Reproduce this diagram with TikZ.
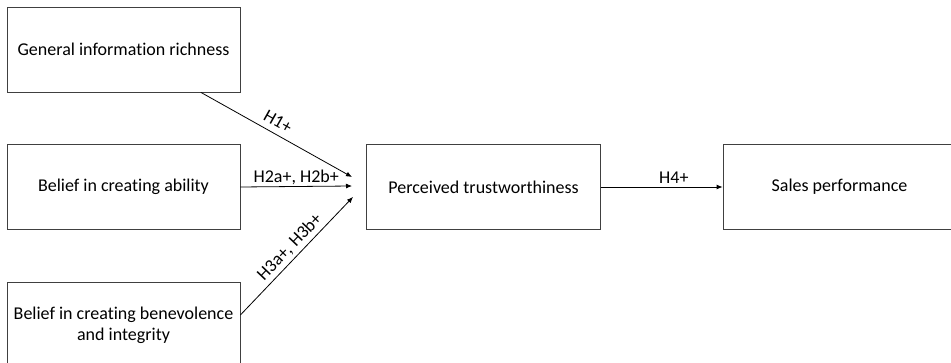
\documentclass[tikz,border=0pt]{standalone}
\usepackage{fontspec}
\setmainfont[Ligatures=NoCommon]{Carlito}
\usepackage{xcolor}
\usepackage{tikz}
\usetikzlibrary{arrows.meta}

\begin{document}
\begin{tikzpicture}[x=1pt, y=-1pt, font=\fontsize{18}{21}\selectfont, >={Latex[length=6pt, width=5pt]}]
    \clip (0,0) rectangle (951,363);
    \fill[white] (0,0) rectangle (951,363);

    % Antecedents
    \node[draw=black!75, rectangle, line width=0.8pt, minimum width=233pt, minimum height=85pt] (gen) at (123.5,49.5) {General information richness};
    \node[draw=black!75, rectangle, line width=0.8pt, minimum width=233pt, minimum height=85pt] (abil) at (123.5,187) {Belief in creating ability};
    \node[draw=black!75, rectangle, line width=0.8pt, minimum width=233pt, minimum height=85pt, align=center] (benev) at (123.5,325) {Belief in creating benevolence\\and integrity};

    % Mediator
    \node[draw=black!75, rectangle, line width=0.8pt, minimum width=233.5pt, minimum height=85pt] (trust) at (483.5,187) {Perceived trustworthiness};

    % Outcome
    \node[draw=black!75, rectangle, line width=0.8pt, minimum width=233pt, minimum height=85pt] (sales) at (839.5,187) {Sales performance};

    % Arrow ends in front of the mediator
    \coordinate (in1) at (352,177);
    \coordinate (in2) at (352,186);
    \coordinate (in3) at (353,197);

    % Arrows
    \draw[->, line width=0.8pt] (gen.-29) -- node[pos=0.47, above=3pt, sloped] {H1+} (in1);
    \draw[->, line width=0.8pt] (abil.east) -- node[midway, above, yshift=-2pt] {H2a+, H2b+} (in2);
    \draw[->, line width=0.8pt] (benev.east) ++(0,-10) -- node[pos=0.51, above, sloped] {H3a+, H3b+} (in3);
    \draw[->, line width=0.8pt] (trust.east) -- node[pos=0.6, above] {H4+} (sales.west);
\end{tikzpicture}
\end{document}
